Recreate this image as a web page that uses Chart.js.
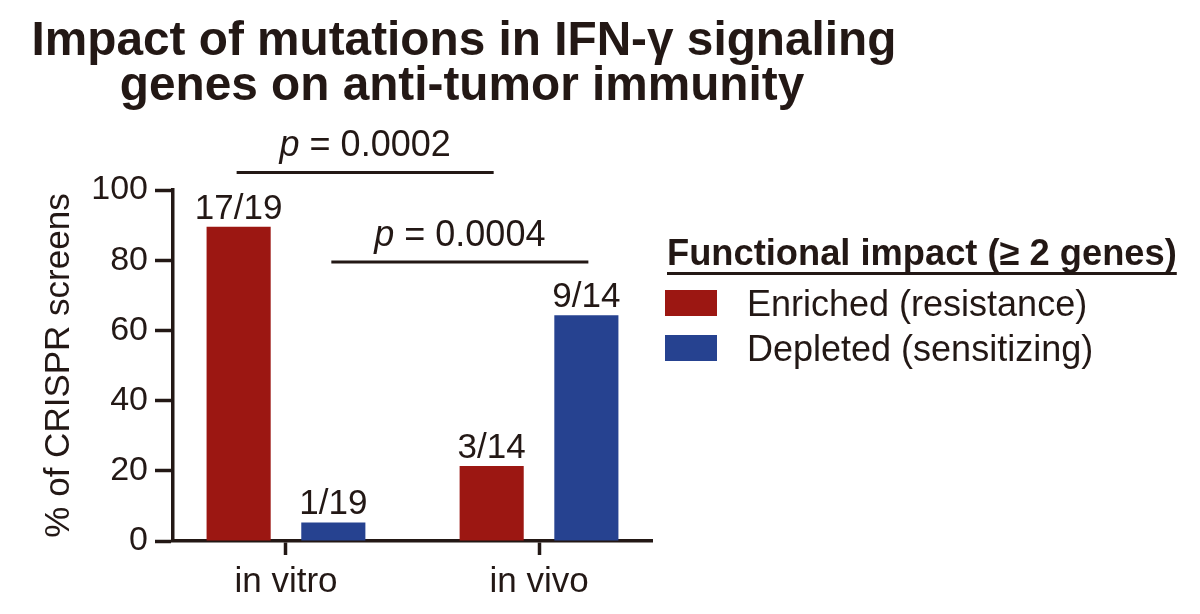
<!DOCTYPE html>
<html>
<head>
<meta charset="utf-8">
<script src="https://cdn.jsdelivr.net/npm/chart.js@4"></script>
<style>
body { margin: 0; background: #fff; }
#wrap { width: 1200px; height: 614px; }
</style>
</head>
<body>
<div id="wrap"><canvas id="myChart"></canvas></div>
<script>
const categories = ['in vitro', 'in vivo'];
const seriesNames = ['Enriched (resistance)', 'Depleted (sensitizing)'];
const enriched = [89.5, 21.4];
const depleted = [5.3, 64.3];
const enrichedFrac = ['17/19', '3/14'];
const depletedFrac = ['1/19', '9/14'];
const yTicks = [0, 20, 40, 60, 80, 100];
const pValues = ['0.0002', '0.0004'];
const titleLines = ['Impact of mutations in IFN-γ signaling', 'genes on anti-tumor immunity'];
const legendTitle = 'Functional impact (≥ 2 genes)';

const ink = '#231815';
const red = '#9c1712';
const blue = '#264290';
const fam = 'Arial, "Liberation Sans", sans-serif';

Chart.defaults.font.family = fam;
Chart.defaults.color = ink;

// fit a text to a given width (the reference font runs a bit wide)
function fitFont(ctx, text, width, weight) {
    ctx.font = weight + ' 40px ' + fam;
    let w = ctx.measureText(text).width;
    return 40 * width / w;
}

const overlay = {
    id: 'overlay',
    afterDatasetsDraw(chart) {
        const ctx = chart.ctx;
        const ys = chart.scales.y;
        ctx.save();
        ctx.fillStyle = ink;
        ctx.strokeStyle = ink;

        // n/N above every bar
        ctx.textAlign = 'center';
        ctx.textBaseline = 'alphabetic';
        ctx.font = '35px ' + fam;
        chart.data.datasets.forEach((ds, i) => {
            chart.getDatasetMeta(i).data.forEach((bar, j) => {
                ctx.fillText(ds.fracs[j], bar.x, bar.y - 8);
            });
        });

        // p-value brackets, same colour across the two groups
        const levels = [105, 79.5];
        for (let i = 0; i < 2; i++) {
            const bars = chart.getDatasetMeta(i).data;
            const x1 = bars[0].x - 2, x2 = bars[1].x + 2;
            const ly = ys.getPixelForValue(levels[i]);
            ctx.lineWidth = 3;
            ctx.beginPath();
            ctx.moveTo(x1, ly);
            ctx.lineTo(x2, ly);
            ctx.stroke();

            const rest = ' = ' + pValues[i];
            ctx.font = 'italic 36px ' + fam;
            const wp = ctx.measureText('p').width;
            ctx.font = '36px ' + fam;
            const wr = ctx.measureText(rest).width;
            const sx = (x1 + x2) / 2 - (wp + wr) / 2;
            ctx.textAlign = 'left';
            ctx.font = 'italic 36px ' + fam;
            ctx.fillText('p', sx, ly - 16);
            ctx.font = '36px ' + fam;
            ctx.fillText(rest, sx + wp, ly - 16);
        }

        // title
        const tSize = fitFont(ctx, titleLines[0], 865, 'bold');
        ctx.font = 'bold ' + tSize + 'px ' + fam;
        ctx.textAlign = 'center';
        ctx.fillText(titleLines[0], 464, 55);
        ctx.fillText(titleLines[1], 462, 100);

        // legend
        const lSize = fitFont(ctx, legendTitle, 510, 'bold');
        ctx.font = 'bold ' + lSize + 'px ' + fam;
        ctx.textAlign = 'left';
        ctx.fillText(legendTitle, 667, 265);
        const lw = ctx.measureText(legendTitle).width;
        ctx.lineWidth = 3;
        ctx.beginPath();
        ctx.moveTo(667, 273.5);
        ctx.lineTo(667 + lw, 273.5);
        ctx.stroke();

        ctx.font = '36px ' + fam;
        chart.data.datasets.forEach((ds, i) => {
            const top = 290 + i * 45;
            ctx.fillStyle = ds.backgroundColor;
            ctx.fillRect(665, top, 52, 26);
            ctx.fillStyle = ink;
            ctx.fillText(ds.label, 747, top + 26);
        });
        ctx.restore();
    }
};

const ctx = document.getElementById('myChart').getContext('2d');
const myChart = new Chart(ctx, {
    type: 'bar',
    data: {
        datasets: [{
            label: seriesNames[0],
            data: enriched.map((v, i) => ({x: i, y: v})),
            fracs: enrichedFrac,
            backgroundColor: red,
            categoryPercentage: 0.7485,
            barPercentage: 0.677
        }, {
            label: seriesNames[1],
            data: depleted.map((v, i) => ({x: i, y: v})),
            fracs: depletedFrac,
            backgroundColor: blue,
            categoryPercentage: 0.7485,
            barPercentage: 0.677
        }]
    },
    options: {
        responsive: true,
        maintainAspectRatio: false,
        animation: false,
        layout: {
            padding: {left: 0, right: 548, top: 190, bottom: 0}
        },
        plugins: {
            legend: {display: false},
            title: {display: false},
            tooltip: {enabled: false}
        },
        scales: {
            x: {
                type: 'linear',
                min: -0.4465,
                max: 1.4465,
                offset: false,
                afterBuildTicks: s => { s.ticks = categories.map((c, i) => ({value: i})); },
                afterFit: s => { s.height = 73; },
                ticks: {
                    callback: v => categories[v],
                    color: ink,
                    font: {size: 35},
                    padding: 6,
                    maxRotation: 0,
                    autoSkip: false
                },
                grid: {offset: false, drawOnChartArea: false, tickLength: 14, tickWidth: 3.5, color: ink},
                border: {color: ink, width: 3.5}
            },
            y: {
                min: 0,
                max: 100,
                afterBuildTicks: s => { s.ticks = yTicks.map(v => ({value: v})); },
                afterFit: s => { s.width = 173; },
                ticks: {color: ink, font: {size: 34}, padding: 7},
                grid: {drawOnChartArea: false, tickLength: 18, tickWidth: 3.5, color: ink},
                border: {color: ink, width: 3.5},
                title: {
                    display: true,
                    text: '% of CRISPR screens',
                    color: ink,
                    font: {size: 35},
                    padding: {top: 38, bottom: 0}
                }
            }
        }
    },
    plugins: [overlay]
});
</script>
</body>
</html>
